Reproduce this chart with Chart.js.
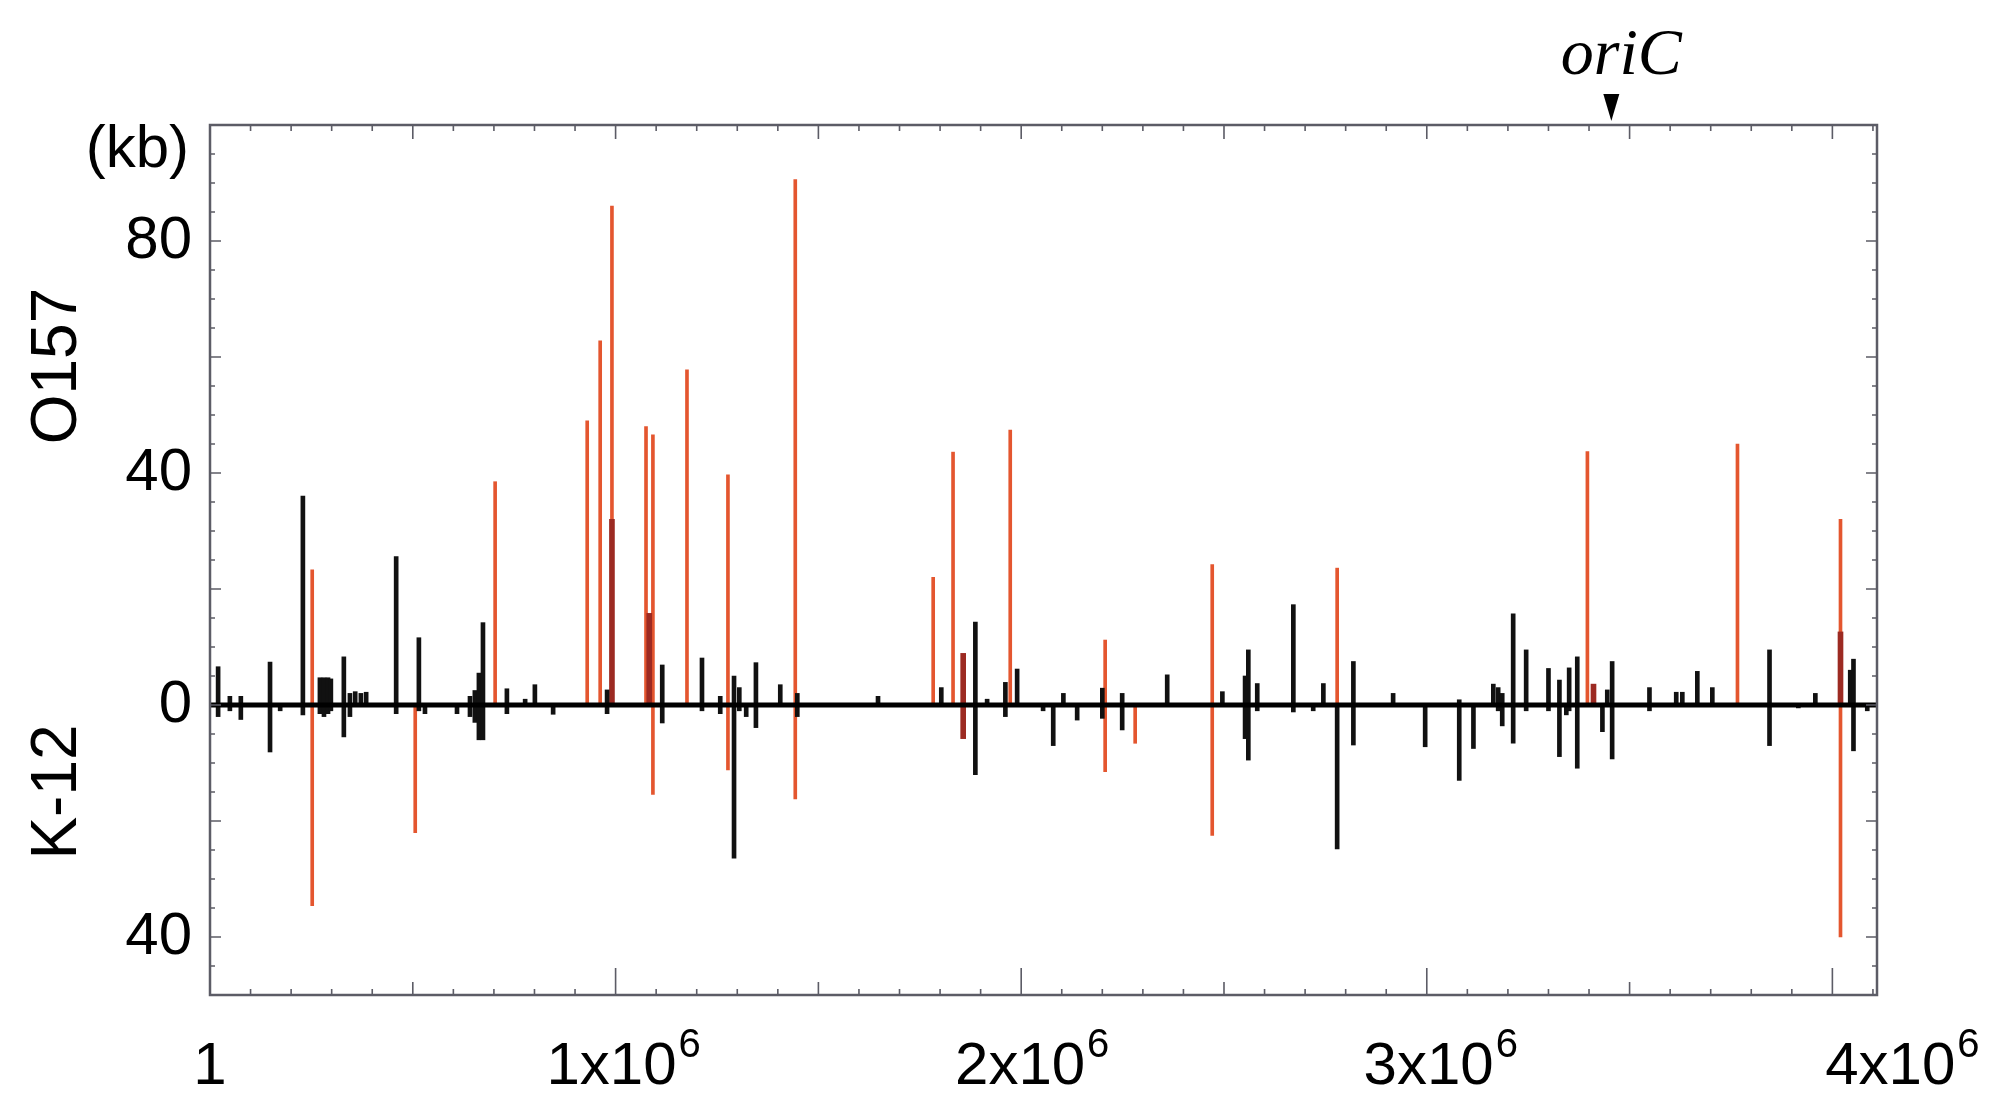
<!DOCTYPE html>
<html>
<head>
<meta charset="utf-8">
<title>O157 / K-12 insertions</title>
<script src="https://cdn.jsdelivr.net/npm/chart.js@4.4.1/dist/chart.umd.min.js"></script>
<style>
  html, body { margin: 0; padding: 0; background: #fff; }
  canvas { display: block; }
</style>
</head>
<body>
<canvas id="chartCanvas" width="2000" height="1102"></canvas>
<script>
// positions in kb along the backbone, sizes in kb (up = O157, down = K-12)
const blackPos = [20, 49, 76, 148, 173, 229, 271, 281, 291, 298, 330, 345, 358, 372, 385, 459, 515, 530, 609, 641,
  653, 663, 673, 732, 777, 801, 846, 979, 1115, 1213, 1258, 1292, 1305, 1322, 1346, 1406, 1448, 1647, 1803, 1887,
  1916, 1961, 1990, 2054, 2079, 2104, 2138, 2200, 2249, 2360, 2496, 2552, 2560, 2582, 2671, 2720, 2745, 2779, 2819, 2917,
  2996, 3080, 3115, 3164, 3176, 3186, 3213, 3245, 3300, 3327, 3344, 3351, 3371, 3433, 3445, 3457, 3549, 3615, 3630, 3667,
  3704, 3845, 3916, 3958, 4044, 4052, 4086];
const blackUp = [6.6, 1.5, 1.5, 7.4, 0, 36, 4.7, 4.7, 4.7, 4.5, 8.3, 2, 2.3, 2, 2.2, 25.6, 11.6, 0, 0, 1.5,
  2.5, 5.5, 14.2, 2.8, 1, 3.5, 0, 2.6, 6.9, 8.1, 1.5, 5, 3, 0, 7.3, 3.5, 2, 1.5, 3, 14.3,
  1, 3.9, 6.2, 0, 0, 2, 0, 2.9, 2, 5.2, 2.3, 5, 9.5, 3.7, 17.3, 0, 3.7, 0, 7.5, 2,
  0, 0.9, 0, 3.6, 3, 2, 15.7, 9.5, 6.3, 4.3, 0, 6.4, 8.3, 0, 2.6, 7.5, 3, 2.2, 2.2, 5.8,
  3, 9.5, 0, 2, 6, 7.9, 0];
const blackDown = [-2, -1, -2.5, -8.1, -1, -1.7, -1.5, -2, -1.5, -1, -5.5, -2, 0, 0, 0, -1.5, -1, -1.5, -1.5, -2,
  -3, -6, -6, -1.5, 0, 0, -1.6, -1.5, -3.1, -1, -1.5, -26.4, -1, -2, -3.9, 0, -2, 0, 0, -12,
  0, -2, 0, -1, -7, 0, -2.6, -2.3, -4.3, 0, 0, -5.8, -9.5, -1, -1.2, -1, 0, -24.8, -6.9, 0,
  -7.2, -13, -7.5, 0, -1, -3.6, -6.6, -1, -1, -8.9, -1.7, -1, -10.9, -4.6, 0, -9.3, -1, 0, 0, 0,
  0, -7, -0.5, 0, 0, -7.9, -1];

const redPos = [252, 506, 703, 930, 962, 991, 1075, 1092, 1176, 1277, 1443, 1783, 1832, 1973, 2207, 2281, 2471, 2779, 3396, 3766, 4020];
const redUp = [23.3, 0, 38.5, 49, 62.8, 86, 48, 46.6, 57.8, 39.7, 90.6, 22, 43.6, 47.4, 11.2, 0, 24.2, 23.6, 43.7, 45, 32];
const redDown = [-34.6, -22, 0, 0, 0, 0, 0, -15.4, 0, -11.2, -16.2, 0, 0, 0, -11.5, -6.6, -22.5, 0, 0, 0, -40];

const darkPos = [991, 1083, 1857, 3411, 4020];
const darkUp = [32, 15.8, 8.9, 3.6, 12.6];
const darkDown = [0, 0, -5.8, 0, 0];

const xTickValues = [1, 1000000, 2000000, 3000000, 4000000];
const xTickBase = ['1', '1x10', '2x10', '3x10', '4x10'];
const xTickExp = ['', '6', '6', '6', '6'];
const yTickValues = [-40, 0, 40, 80];
const oriCPos = 3455000;

const X_MAX = 4110000;
const AXIS_COLOR = '#5c5c66';
const SANS = '"Liberation Sans", Arial, sans-serif';

function spikes(pos, up, down) {
  return pos.map((p, i) => ({ x: p * 1000, y: [down[i], up[i]] }));
}

// frame, inward tick marks and the free text of the figure
const decorations = {
  id: 'decorations',
  afterDatasetsDraw(chart) {
    const { ctx, chartArea: a, scales: { x, y } } = chart;
    ctx.save();

    ctx.strokeStyle = AXIS_COLOR;
    ctx.lineWidth = 2.5;
    ctx.strokeRect(a.left, a.top, a.right - a.left, a.bottom - a.top);

    ctx.lineWidth = 1.6;
    ctx.beginPath();
    for (let v = 100000; v < X_MAX; v += 100000) {
      const px = x.getPixelForValue(v);
      const half = v % 500000 === 0;
      const lb = v % 1000000 === 0 ? 27 : half ? 13 : 6;
      const lt = half ? 14 : 6;
      ctx.moveTo(px, a.bottom); ctx.lineTo(px, a.bottom - lb);
      ctx.moveTo(px, a.top); ctx.lineTo(px, a.top + lt);
    }
    for (let v = -45; v < 100; v += 5) {
      const py = y.getPixelForValue(v);
      const l = v % 20 === 0 ? 11 : 5;
      ctx.moveTo(a.left, py); ctx.lineTo(a.left + l, py);
      ctx.moveTo(a.right, py); ctx.lineTo(a.right - l, py);
    }
    ctx.stroke();

    // x labels with superscript exponent
    const shift = [0, 8, 11, 14, 70];
    ctx.fillStyle = '#000';
    ctx.textBaseline = 'alphabetic';
    ctx.textAlign = 'left';
    xTickValues.forEach((v, i) => {
      ctx.font = '60px ' + SANS;
      const w1 = ctx.measureText(xTickBase[i]).width;
      ctx.font = '40px ' + SANS;
      const w2 = xTickExp[i] ? ctx.measureText(xTickExp[i]).width + 2 : 0;
      const start = x.getPixelForValue(v) + shift[i] - (w1 + w2) / 2;
      ctx.font = '60px ' + SANS;
      ctx.fillText(xTickBase[i], start, a.bottom + 89);
      if (xTickExp[i]) {
        ctx.font = '40px ' + SANS;
        ctx.fillText(xTickExp[i], start + w1 + 2, a.bottom + 62);
      }
    });

    // unit and strain names
    ctx.font = '60px ' + SANS;
    ctx.textAlign = 'right';
    ctx.textBaseline = 'middle';
    ctx.fillText('(kb)', 189, 150);

    ctx.font = '64px ' + SANS;
    ctx.textAlign = 'center';
    [['O157', 366], ['K-12', 792]].forEach(([t, cy]) => {
      ctx.save();
      ctx.translate(58, cy);
      ctx.rotate(-Math.PI / 2);
      ctx.fillText(t, 0, 0);
      ctx.restore();
    });

    // oriC marker
    const ox = x.getPixelForValue(oriCPos);
    ctx.beginPath();
    ctx.moveTo(ox, a.top - 4);
    ctx.lineTo(ox - 8, a.top - 31);
    ctx.lineTo(ox + 8, a.top - 31);
    ctx.closePath();
    ctx.fill();
    ctx.font = 'italic 66px "Liberation Serif", "Times New Roman", serif';
    ctx.textBaseline = 'alphabetic';
    ctx.fillText('oriC', ox + 10, 74);

    ctx.restore();
  }
};

document.addEventListener('DOMContentLoaded', () => {
  const ctx = document.getElementById('chartCanvas').getContext('2d');

  new Chart(ctx, {
    type: 'bar',
    data: {
      datasets: [
        {
          type: 'line',
          label: 'baseline',
          data: [{ x: 0, y: 0 }, { x: X_MAX, y: 0 }],
          borderColor: '#000',
          borderWidth: 5,
          pointRadius: 0,
          order: 0
        },
        {
          label: 'shared',
          data: spikes(blackPos, blackUp, blackDown),
          backgroundColor: '#111',
          barThickness: 4,
          order: 1
        },
        {
          label: 'dark',
          data: spikes(darkPos, darkUp, darkDown),
          backgroundColor: '#9c2a22',
          barThickness: 5,
          order: 2
        },
        {
          label: 'islands',
          data: spikes(redPos, redUp, redDown),
          backgroundColor: '#e4562f',
          barThickness: 3,
          order: 3
        }
      ]
    },
    options: {
      responsive: false,
      animation: false,
      devicePixelRatio: 1,
      layout: { padding: { top: 125, right: 123, bottom: 0, left: 0 } },
      datasets: { bar: { grouped: false, borderWidth: 0 } },
      plugins: { legend: { display: false }, tooltip: { enabled: false } },
      scales: {
        x: {
          type: 'linear',
          min: 0,
          max: X_MAX,
          offset: false,
          grid: { display: false },
          border: { display: false },
          ticks: { display: false },
          afterFit: s => { s.height = 107; }
        },
        y: {
          min: -50,
          max: 100,
          grid: { display: false, drawTicks: false },
          border: { display: false },
          afterBuildTicks: s => { s.ticks = yTickValues.map(v => ({ value: v })); },
          afterFit: s => { s.width = 210; },
          ticks: {
            color: '#000',
            padding: 18,
            font: { family: SANS, size: 60 },
            callback: v => String(Math.abs(v))
          }
        }
      }
    },
    plugins: [decorations]
  });
});
</script>
</body>
</html>
